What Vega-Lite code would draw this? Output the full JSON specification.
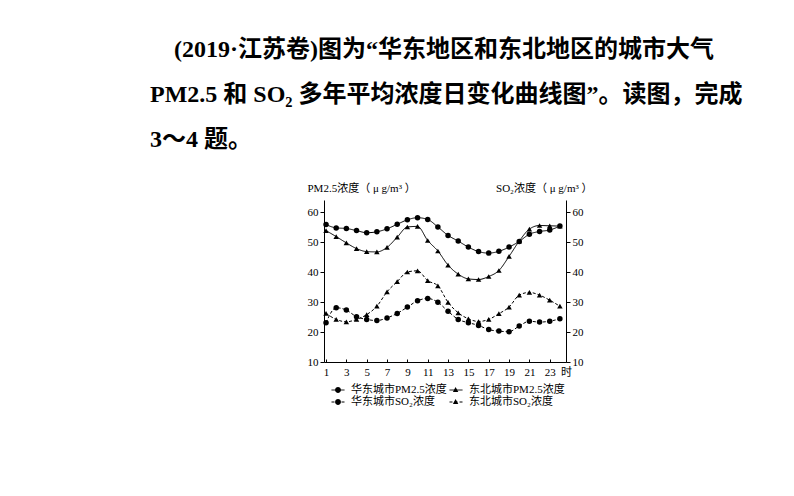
{
  "$schema": "https://vega.github.io/schema/vega-lite/v6.json",
  "width": 242,
  "height": 162,
  "autosize": {"type": "none"},
  "padding": {"left": 324, "top": 200, "right": 228, "bottom": 134},
  "background": "white",
  "title": {
    "text": ["\u200b\u00a0\u00a0\u00a0\u00a0(2019·江苏卷)图为“华东地区和东北地区的城市大气", "PM2.5 和 SO₂ 多年平均浓度日变化曲线图”。读图，完成", "3～4 题。"],
    "anchor": "start",
    "frame": "group",
    "dx": -174,
    "offset": 30,
    "fontSize": 24,
    "fontWeight": "bold",
    "font": "Liberation Serif, Noto Sans CJK SC",
    "lineHeight": 45,
    "color": "black"
  },
  "data": {
    "values": [
      {"h":1,"s":"华东城市PM2.5浓度","v":55.8},{"h":2,"s":"华东城市PM2.5浓度","v":54.7},{"h":3,"s":"华东城市PM2.5浓度","v":54.5},{"h":4,"s":"华东城市PM2.5浓度","v":53.8},{"h":5,"s":"华东城市PM2.5浓度","v":53.1},{"h":6,"s":"华东城市PM2.5浓度","v":53.4},{"h":7,"s":"华东城市PM2.5浓度","v":54.4},{"h":8,"s":"华东城市PM2.5浓度","v":55.9},{"h":9,"s":"华东城市PM2.5浓度","v":57.4},{"h":10,"s":"华东城市PM2.5浓度","v":58.1},{"h":11,"s":"华东城市PM2.5浓度","v":57.5},{"h":12,"s":"华东城市PM2.5浓度","v":55.0},{"h":13,"s":"华东城市PM2.5浓度","v":52.2},{"h":14,"s":"华东城市PM2.5浓度","v":50.3},{"h":15,"s":"华东城市PM2.5浓度","v":48.3},{"h":16,"s":"华东城市PM2.5浓度","v":46.8},{"h":17,"s":"华东城市PM2.5浓度","v":46.3},{"h":18,"s":"华东城市PM2.5浓度","v":46.9},{"h":19,"s":"华东城市PM2.5浓度","v":48.3},{"h":20,"s":"华东城市PM2.5浓度","v":50.2},{"h":21,"s":"华东城市PM2.5浓度","v":52.6},{"h":22,"s":"华东城市PM2.5浓度","v":53.5},{"h":23,"s":"华东城市PM2.5浓度","v":54.0},{"h":24,"s":"华东城市PM2.5浓度","v":55.3},
      {"h":1,"s":"东北城市PM2.5浓度","v":53.8},{"h":2,"s":"东北城市PM2.5浓度","v":51.8},{"h":3,"s":"东北城市PM2.5浓度","v":49.7},{"h":4,"s":"东北城市PM2.5浓度","v":47.8},{"h":5,"s":"东北城市PM2.5浓度","v":46.8},{"h":6,"s":"东北城市PM2.5浓度","v":46.7},{"h":7,"s":"东北城市PM2.5浓度","v":48.2},{"h":8,"s":"东北城市PM2.5浓度","v":51.6},{"h":9,"s":"东北城市PM2.5浓度","v":55.0},{"h":10,"s":"东北城市PM2.5浓度","v":55.2},{"h":11,"s":"东北城市PM2.5浓度","v":50.5},{"h":12,"s":"东北城市PM2.5浓度","v":47.0},{"h":13,"s":"东北城市PM2.5浓度","v":42.3},{"h":14,"s":"东北城市PM2.5浓度","v":39.3},{"h":15,"s":"东北城市PM2.5浓度","v":37.7},{"h":16,"s":"东北城市PM2.5浓度","v":37.5},{"h":17,"s":"东北城市PM2.5浓度","v":38.5},{"h":18,"s":"东北城市PM2.5浓度","v":40.5},{"h":19,"s":"东北城市PM2.5浓度","v":45.2},{"h":20,"s":"东北城市PM2.5浓度","v":50.3},{"h":21,"s":"东北城市PM2.5浓度","v":54.3},{"h":22,"s":"东北城市PM2.5浓度","v":55.5},{"h":23,"s":"东北城市PM2.5浓度","v":55.4},{"h":24,"s":"东北城市PM2.5浓度","v":55.3},
      {"h":1,"s":"华东城市SO₂浓度","v":23.1},{"h":2,"s":"华东城市SO₂浓度","v":28.1},{"h":3,"s":"华东城市SO₂浓度","v":27.3},{"h":4,"s":"华东城市SO₂浓度","v":25.1},{"h":5,"s":"华东城市SO₂浓度","v":24.2},{"h":6,"s":"华东城市SO₂浓度","v":23.8},{"h":7,"s":"华东城市SO₂浓度","v":24.7},{"h":8,"s":"华东城市SO₂浓度","v":26.2},{"h":9,"s":"华东城市SO₂浓度","v":28.3},{"h":10,"s":"华东城市SO₂浓度","v":30.4},{"h":11,"s":"华东城市SO₂浓度","v":31.2},{"h":12,"s":"华东城市SO₂浓度","v":29.9},{"h":13,"s":"华东城市SO₂浓度","v":26.9},{"h":14,"s":"华东城市SO₂浓度","v":24.2},{"h":15,"s":"华东城市SO₂浓度","v":23.1},{"h":16,"s":"华东城市SO₂浓度","v":22.2},{"h":17,"s":"华东城市SO₂浓度","v":20.8},{"h":18,"s":"华东城市SO₂浓度","v":20.3},{"h":19,"s":"华东城市SO₂浓度","v":20.1},{"h":20,"s":"华东城市SO₂浓度","v":22.0},{"h":21,"s":"华东城市SO₂浓度","v":23.6},{"h":22,"s":"华东城市SO₂浓度","v":23.3},{"h":23,"s":"华东城市SO₂浓度","v":23.6},{"h":24,"s":"华东城市SO₂浓度","v":24.4},
      {"h":1,"s":"东北城市SO₂浓度","v":26.2},{"h":2,"s":"东北城市SO₂浓度","v":24.2},{"h":3,"s":"东北城市SO₂浓度","v":23.4},{"h":4,"s":"东北城市SO₂浓度","v":24.2},{"h":5,"s":"东北城市SO₂浓度","v":25.8},{"h":6,"s":"东北城市SO₂浓度","v":28.6},{"h":7,"s":"东北城市SO₂浓度","v":33.4},{"h":8,"s":"东北城市SO₂浓度","v":36.8},{"h":9,"s":"东北城市SO₂浓度","v":40.0},{"h":10,"s":"东北城市SO₂浓度","v":40.4},{"h":11,"s":"东北城市SO₂浓度","v":37.1},{"h":12,"s":"东北城市SO₂浓度","v":35.4},{"h":13,"s":"东北城市SO₂浓度","v":29.9},{"h":14,"s":"东北城市SO₂浓度","v":26.4},{"h":15,"s":"东北城市SO₂浓度","v":24.4},{"h":16,"s":"东北城市SO₂浓度","v":23.5},{"h":17,"s":"东北城市SO₂浓度","v":24.2},{"h":18,"s":"东北城市SO₂浓度","v":26.1},{"h":19,"s":"东北城市SO₂浓度","v":28.3},{"h":20,"s":"东北城市SO₂浓度","v":32.3},{"h":21,"s":"东北城市SO₂浓度","v":33.2},{"h":22,"s":"东北城市SO₂浓度","v":32.3},{"h":23,"s":"东北城市SO₂浓度","v":30.6},{"h":24,"s":"东北城市SO₂浓度","v":28.6}
    ]
  },
  "encoding": {
    "x": {
      "field": "h",
      "type": "quantitative",
      "scale": {"domain": [0.8, 24.6], "nice": false, "zero": false},
      "axis": {
        "title": null,
        "values": [1,2,3,4,5,6,7,8,9,10,11,12,13,14,15,16,17,18,19,20,21,22,23,24,24.6],
        "labelExpr": "datum.value > 24.5 ? '时' : (datum.value % 2 == 1 ? datum.label : '')",
        "format": "d",
        "tickSize": -3,
        "labelPadding": 7,
        "labelOverlap": false,
        "labelFlush": false,
        "grid": false
      }
    }
  },
  "layer": [
    {
      "mark": {"type": "line", "interpolate": "monotone", "color": "black", "strokeWidth": 1},
      "encoding": {
        "y": {
          "field": "v",
          "type": "quantitative",
          "scale": {"domain": [10, 64], "nice": false, "zero": false},
          "axis": {
            "orient": "left",
            "values": [10,20,30,40,50,60],
            "title": "PM2.5浓度（ μ g/m³ ）",
            "titleAngle": 0,
            "titleAlign": "left",
            "titleBaseline": "middle",
            "titleX": -17,
            "titleY": -12,
            "tickSize": 4,
            "labelPadding": 2,
            "grid": false
          }
        },
        "strokeDash": {
          "field": "s",
          "type": "nominal",
          "scale": {
            "domain": ["华东城市PM2.5浓度", "东北城市PM2.5浓度", "华东城市SO₂浓度", "东北城市SO₂浓度"],
            "range": [[1, 0], [1, 0], [3, 2], [3, 2]]
          },
          "legend": {
            "title": null,
            "orient": "none",
            "direction": "horizontal",
            "legendX": 7,
            "legendY": 183,
            "columns": 2,
            "columnPadding": 0,
            "rowPadding": 0,
            "padding": 0,
            "symbolSize": 169,
            "symbolOffset": 0,
            "symbolStrokeWidth": 1,
            "symbolStrokeColor": "black",
            "labelOffset": 6,
            "labelFontSize": 11,
            "labelFont": "Liberation Serif, Noto Sans CJK SC",
            "labelColor": "black",
            "labelLimit": 200
          }
        }
      }
    },
    {
      "mark": {"type": "point", "filled": true, "color": "black", "opacity": 1},
      "encoding": {
        "y": {
          "field": "v",
          "type": "quantitative",
          "scale": {"domain": [10, 64], "nice": false, "zero": false},
          "axis": {
            "orient": "right",
            "values": [10,20,30,40,50,60],
            "title": "SO₂浓度（ μ g/m³ ）",
            "titleAngle": 0,
            "titleAlign": "right",
            "titleBaseline": "middle",
            "titleX": 26,
            "titleY": -12,
            "tickSize": 4,
            "labelPadding": 2,
            "grid": false
          }
        },
        "shape": {
          "field": "s",
          "type": "nominal",
          "scale": {
            "domain": ["华东城市PM2.5浓度", "东北城市PM2.5浓度", "华东城市SO₂浓度", "东北城市SO₂浓度"],
            "range": ["circle", "triangle-up", "circle", "triangle-up"]
          },
          "legend": null
        },
        "size": {"value": 30}
      }
    },
    {
      "mark": {"type": "point", "filled": true, "color": "black", "opacity": 0},
      "encoding": {
        "y": {
          "field": "v",
          "type": "quantitative",
          "scale": {"domain": [10, 64], "nice": false, "zero": false},
          "axis": null
        },
        "shape": {
          "field": "s",
          "type": "nominal",
          "scale": {
            "domain": ["华东城市PM2.5浓度", "东北城市PM2.5浓度", "华东城市SO₂浓度", "东北城市SO₂浓度"],
            "range": [
              "M-1,0M1,0M0.45,0A0.45,0.45 0 1,1 -0.45,0A0.45,0.45 0 1,1 0.45,0Z",
              "M-1,0M1,0M0,-0.45L0.42,0.3L-0.42,0.3Z",
              "M-1,0M1,0M0.45,0A0.45,0.45 0 1,1 -0.45,0A0.45,0.45 0 1,1 0.45,0Z",
              "M-1,0M1,0M0,-0.45L0.42,0.3L-0.42,0.3Z"
            ]
          },
          "legend": {
            "title": null,
            "orient": "none",
            "direction": "horizontal",
            "legendX": 7,
            "legendY": 183,
            "columns": 2,
            "columnPadding": 95.6,
            "rowPadding": 0,
            "padding": 0,
            "symbolSize": 169,
            "symbolOffset": 0,
            "symbolOpacity": 1,
            "symbolFillColor": "black",
            "symbolStrokeWidth": 1,
            "labelOffset": 6,
            "labelExpr": "''",
            "labelFontSize": 11,
            "labelFont": "Liberation Serif, Noto Sans CJK SC",
            "labelLimit": 200
          }
        },
        "size": {"value": 30}
      }
    }
  ],
  "resolve": {"scale": {"y": "independent", "shape": "independent"}},
  "config": {
    "view": {"stroke": null},
    "font": "Liberation Serif, Noto Sans CJK SC",
    "axis": {
      "domainColor": "black",
      "domainWidth": 1,
      "tickColor": "black",
      "tickWidth": 1,
      "labelColor": "black",
      "labelFont": "Liberation Serif, Noto Sans CJK SC",
      "labelFontSize": 11,
      "titleFont": "Liberation Serif, Noto Sans CJK SC",
      "titleFontSize": 11,
      "titleFontWeight": "normal",
      "titleColor": "black"
    }
  }
}
